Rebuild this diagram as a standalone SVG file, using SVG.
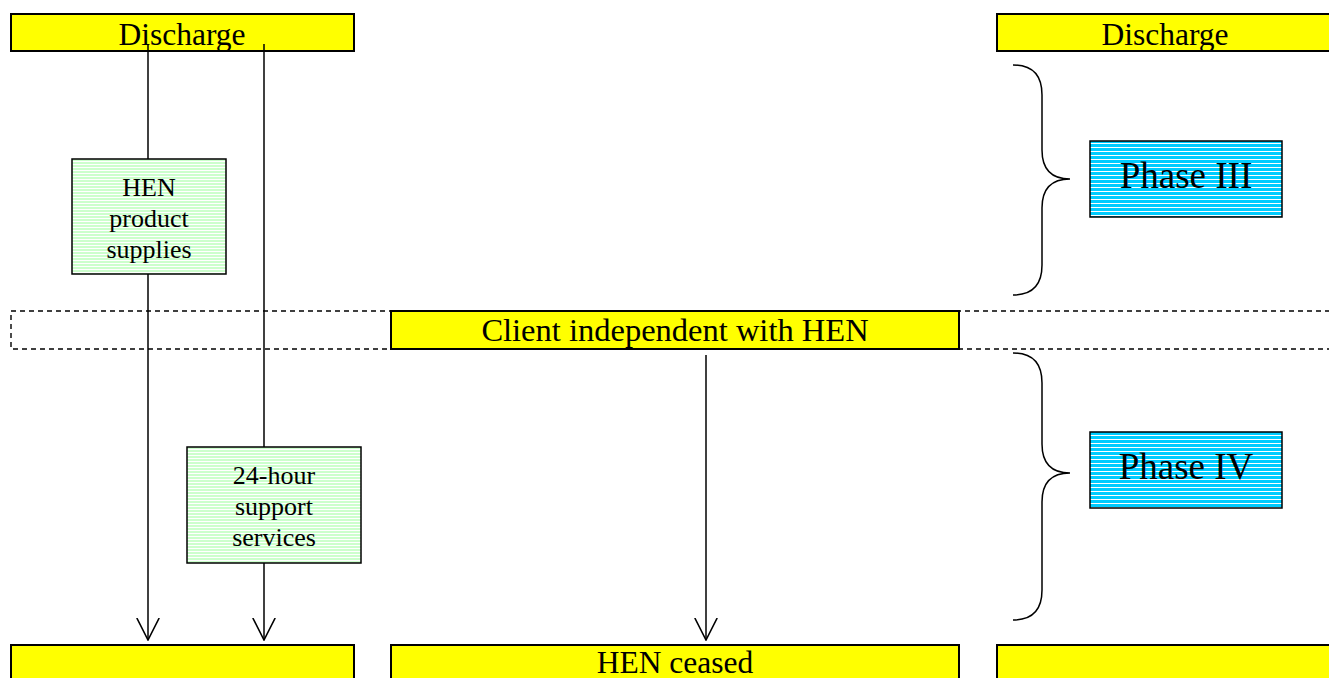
<svg xmlns="http://www.w3.org/2000/svg" width="1329" height="678" viewBox="0 0 1329 678">
  <style>
    .bar { fill: #ffff00; stroke: #000; stroke-width: 2; }
    .band { fill: none; stroke: #000; stroke-width: 1.4; stroke-dasharray: 5 4; }
    .task { fill: url(#greenStripes); stroke: #000; stroke-width: 1.5; }
    .phase { fill: url(#cyanStripes); stroke: #000; stroke-width: 1.5; }
    .flow { fill: none; stroke: #000; stroke-width: 1.5; }
    .brace { fill: none; stroke: #000; stroke-width: 1.5; }
    text { font-family: "Liberation Serif", "Times New Roman", serif; fill: #000; text-anchor: middle; }
    .big { font-size: 31.5px; }
    .small { font-size: 26px; }
    .phaseText { font-size: 37px; }
  </style>
  <defs>
    <pattern id="greenStripes" width="8" height="3" patternUnits="userSpaceOnUse">
      <rect width="8" height="3" fill="#ccffcc"/>
      <rect y="2" width="8" height="1" fill="#ffffff"/>
    </pattern>
    <pattern id="cyanStripes" width="8" height="4" patternUnits="userSpaceOnUse">
      <rect width="8" height="4" fill="#00ccff"/>
      <rect y="3" width="8" height="1" fill="#ffffff"/>
    </pattern>
    <!-- open V arrowhead, drawn along +x so orient="auto" points it down the line -->
    <marker id="vee" viewBox="0 0 23 24" refX="22" refY="12" markerWidth="23" markerHeight="24" markerUnits="userSpaceOnUse" orient="auto">
      <path d="M0,0.8 L22,12 L0,23.2" fill="none" stroke="#000" stroke-width="1.6"/>
    </marker>
  </defs>

  <!-- dashed milestone band -->
  <rect class="band" x="11" y="311" width="1330" height="38"/>

  <g id="discharge-left">
    <rect class="bar" x="11" y="14" width="343" height="37"/>
    <text class="big" x="182" y="45">Discharge</text>
  </g>
  <g id="discharge-right">
    <rect class="bar" x="997" y="14" width="340" height="37"/>
    <text class="big" x="1165" y="45">Discharge</text>
  </g>
  <g id="client-independent">
    <rect class="bar" x="391" y="311" width="568" height="38"/>
    <text class="big" x="675" y="341" style="font-size:32.5px">Client independent with HEN</text>
  </g>
  <g id="end-left">
    <rect class="bar" x="11" y="645" width="343" height="40"/>
  </g>
  <g id="hen-ceased">
    <rect class="bar" x="391" y="645" width="568" height="40"/>
    <text class="big" x="675" y="673">HEN ceased</text>
  </g>
  <g id="end-right">
    <rect class="bar" x="997" y="645" width="340" height="40"/>
  </g>

  <g id="connectors">
    <line class="flow" x1="148" y1="44" x2="148" y2="159"/>
    <line class="flow" x1="148" y1="274" x2="148" y2="640" marker-end="url(#vee)"/>
    <line class="flow" x1="264" y1="44" x2="264" y2="447"/>
    <line class="flow" x1="264" y1="563" x2="264" y2="640" marker-end="url(#vee)"/>
    <line class="flow" x1="706" y1="355" x2="706" y2="640" marker-end="url(#vee)"/>
  </g>

  <g id="hen-product-supplies">
    <rect class="task" x="72" y="159" width="154" height="115"/>
    <text class="small" x="149" y="196">HEN</text>
    <text class="small" x="149" y="227">product</text>
    <text class="small" x="149" y="258">supplies</text>
  </g>
  <g id="support-services">
    <rect class="task" x="187" y="447" width="174" height="116"/>
    <text class="small" x="274" y="484">24-hour</text>
    <text class="small" x="274" y="515">support</text>
    <text class="small" x="274" y="546">services</text>
  </g>

  <g id="brace-phase-3">
    <path class="brace" d="M1013,65 Q1042,65 1042,95 L1042,150 Q1042,179 1070,179 Q1042,179 1042,208 L1042,265 Q1042,295 1013,295"/>
  </g>
  <g id="phase-3">
    <rect class="phase" x="1090" y="141" width="192" height="76"/>
    <text class="phaseText" x="1186" y="188">Phase III</text>
  </g>
  <g id="brace-phase-4">
    <path class="brace" d="M1013,353 Q1042,353 1042,383 L1042,444 Q1042,473 1070,473 Q1042,473 1042,502 L1042,590 Q1042,620 1013,620"/>
  </g>
  <g id="phase-4">
    <rect class="phase" x="1090" y="432" width="192" height="76"/>
    <text class="phaseText" x="1186" y="479">Phase IV</text>
  </g>
</svg>
